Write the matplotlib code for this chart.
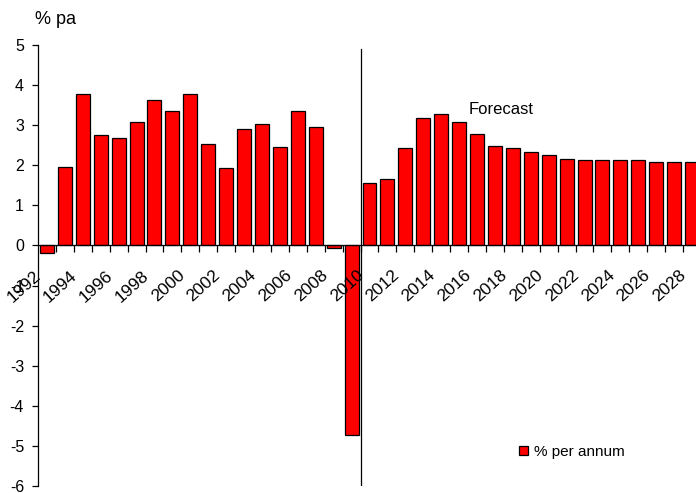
import matplotlib
matplotlib.use("Agg")
import matplotlib.pyplot as plt
import numpy as np

plt.rcParams['font.family'] = ['Liberation Sans', 'DejaVu Sans']
plt.rcParams['axes.unicode_minus'] = False

# Annual growth, % per annum (1992 - 2028, forecast from 2010)
years = list(range(1992, 2029))
growth = [-0.20, 1.96, 3.78, 2.75, 2.68, 3.08, 3.64, 3.35, 3.78, 2.52,
          1.93, 2.91, 3.04, 2.45, 3.35, 2.95, -0.07, -4.73, 1.56, 1.65,
          2.43, 3.18, 3.28, 3.08, 2.78, 2.48, 2.42, 2.32, 2.25, 2.15,
          2.12, 2.12, 2.12, 2.12, 2.08, 2.08, 2.08]
label_years = years[::2]
forecast_start = 2010

W, H = 696, 493
fig = plt.figure(figsize=(W / 100, H / 100), dpi=100)
ax = fig.add_axes([38 / W, 7 / H, 663 / W, 441 / H])
ax.set_axisbelow(False)

x = np.arange(len(years))
ax.bar(x, growth, width=0.78, color='#ff0000', edgecolor='black',
       linewidth=0.9, label='% per annum', zorder=2)

# forecast divider
split = years.index(forecast_start) - 0.5
ax.plot([split, split], [-6, 4.9], color='black', linewidth=0.9, zorder=3)
ax.text(years.index(2016) - 0.45, 3.38, 'Forecast', fontsize=12,
        ha='left', va='center')

ax.set_xlim(-0.5, len(years) - 0.5)
ax.set_ylim(-6, 5)
ax.set_yticks(range(-6, 6))
ax.tick_params(axis='y', direction='out', length=4, width=0.9,
               labelsize=11.5, pad=6)

for s in ['top', 'right']:
    ax.spines[s].set_visible(False)
ax.spines['left'].set_linewidth(0.9)
ax.spines['bottom'].set_position(('data', 0))
ax.spines['bottom'].set_linewidth(0.9)

# tick marks between categories, labels every two years
ax.set_xticks(np.arange(0.5, len(years) - 0.5, 1.0))
ax.set_xticklabels([])
ax.tick_params(axis='x', which='major', direction='out', length=5, width=0.9)
lab_pos = [years.index(y) - 0.45 for y in label_years]
ax.set_xticks(lab_pos, minor=True)
ax.set_xticklabels([str(y) for y in label_years], minor=True, rotation=42,
                   ha='right', va='center', rotation_mode='anchor', fontsize=12.5)
ax.tick_params(axis='x', which='minor', length=0, pad=20)

fig.text(35 / W, 1 - 20 / H, '% pa', fontsize=13, ha='left', va='center')

fig.legend(loc='center left', bbox_to_anchor=(519 / W, 1 - 452 / H),
           frameon=False, fontsize=11, handlelength=0.6, handleheight=0.6,
           handletextpad=0.35, borderpad=0, borderaxespad=0)

fig.savefig('out.png', dpi=100)
